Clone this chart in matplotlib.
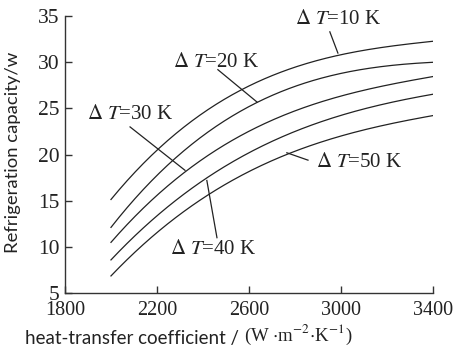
import matplotlib
matplotlib.use("Agg")
import matplotlib.pyplot as plt
import numpy as np

# Data
h = [2000, 2200, 2400, 2600, 2800, 3000, 3200, 3400]
dT10 = [15.0, 20.8, 24.4, 27.3, 29.4, 30.9, 31.8, 32.2]
dT20 = [12.1, 17.8, 22.0, 25.2, 27.4, 28.8, 29.6, 30.0]
dT30 = [10.4, 15.8, 19.5, 22.4, 24.7, 26.4, 27.6, 28.4]
dT40 = [8.5, 13.6, 17.1, 20.1, 22.5, 24.3, 25.6, 26.5]
dT50 = [6.8, 11.7, 15.2, 18.1, 20.4, 22.0, 23.3, 24.2]
series = [dT10, dT20, dT30, dT40, dT50]
labels = ["10", "20", "30", "40", "50"]
xticks = [1800, 2200, 2600, 3000, 3400]
yticks = [5, 10, 15, 20, 25, 30, 35]

plt.rcParams['mathtext.fontset'] = 'stix'
serif = 'Liberation Serif'

fig = plt.figure(figsize=(4.59, 3.51), dpi=100)
ax = fig.add_axes([0.1416, 0.165, 0.8014, 0.789])

xs = np.linspace(h[0], h[-1], 200)
for s in series:
    coeffs = np.polyfit(h, s, 3)
    ax.plot(xs, np.polyval(coeffs, xs), color='#222222', lw=0.9)

ax.set_xlim(1800, 3400)
ax.set_ylim(5, 35)
ax.set_xticks(xticks)
ax.set_yticks(yticks)
for sp in ['top', 'right']:
    ax.spines[sp].set_visible(False)
for sp in ['left', 'bottom']:
    ax.spines[sp].set_linewidth(1.0)
    ax.spines[sp].set_color('#333333')
ax.tick_params(direction='in', length=5, width=1.0, color='#333333', pad=4)
ax.tick_params(axis='x', pad=5.5)
for lab in ax.get_xticklabels():
    lab.set_fontfamily(serif)
    lab.set_fontsize(14.5)
    lab.set_color('#222222')
for lab in ax.get_yticklabels():
    lab.set_fontfamily(serif)
    lab.set_fontsize(15.5)
    lab.set_color('#222222')

# Annotations: (label, text pos, leader start, leader end)
ann = [
    ("10", (2987, 34.6), (2952, 33.3), (2987, 31.0)),
    ("20", (2457, 30.0), (2465, 29.2), (2635, 25.7)),
    ("30", (2083, 24.3), (2083, 23.0), (2322, 18.3)),
    ("40", (2443, 9.7), (2461, 11.0), (2417, 17.2)),
    ("50", (3078, 19.1), (2857, 19.4), (2765, 20.2)),
]
for lab, tpos, p0, p1 in ann:
    ax.text(tpos[0], tpos[1], r'$\Delta\ T$=' + lab + ' K', fontsize=15,
            fontfamily=serif, ha='center', va='center', color='#222222')
    ax.plot([p0[0], p1[0]], [p0[1], p1[1]], color='#222222', lw=0.9)

ax.set_ylabel('Refrigeration capacity/w', fontsize=13.3, fontfamily='Lato',
              color='#222222')
ax.yaxis.set_label_coords(-0.12, 0.509)
t1 = fig.text(0.054, 0.02, 'heat-transfer coefficient / ', fontsize=13.5,
              fontfamily='Lato', color='#222222', va='baseline')
ax.annotate(r'(W $\cdot$m$^{-2}$$\cdot$K$^{-1}$)', xy=(1, 0), xycoords=t1,
            va='bottom', ha='left', fontsize=13.5, fontfamily=serif,
            color='#222222')

fig.savefig('out.png', dpi=100)
